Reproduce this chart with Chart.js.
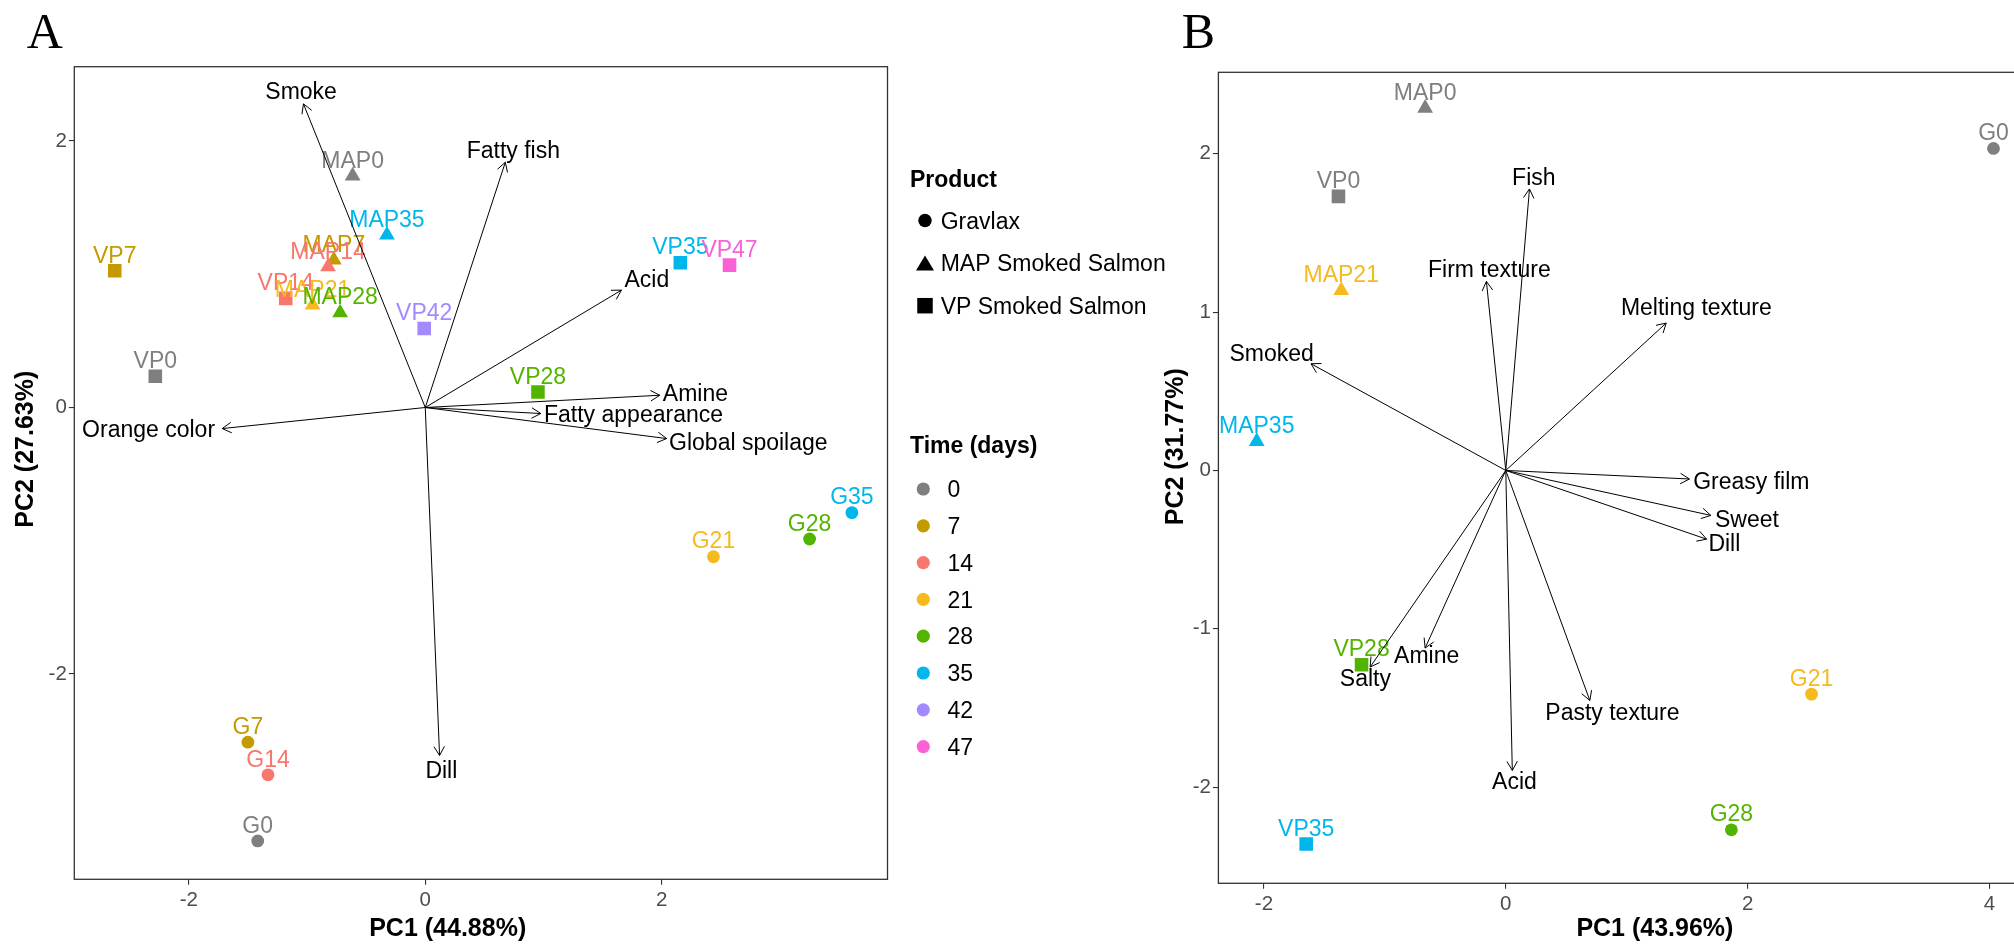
<!DOCTYPE html>
<html>
<head>
<meta charset="utf-8">
<title>PCA biplots – smoked salmon and gravlax</title>
<script src="https://cdn.jsdelivr.net/npm/chart.js@4.4.1/dist/chart.umd.min.js"></script>
<style>
  html, body { margin: 0; padding: 0; background: #ffffff; width: 2014px; height: 945px; overflow: hidden; }
  canvas { position: absolute; top: 0; }
  #panelA { left: 0; }
  #panelB { left: 1150px; }
</style>
</head>
<body>
<canvas id="panelA" width="1200" height="945"></canvas>
<canvas id="panelB" width="1000" height="945"></canvas>
<script>
// ---------- shared legend levels ----------
const productCodes  = ['G', 'MAP', 'VP'];
const productLabels = ['Gravlax', 'MAP Smoked Salmon', 'VP Smoked Salmon'];
const dayLevels = [0, 7, 14, 21, 28, 35, 42, 47];
const dayColors = ['#7F7F7F', '#C49A00', '#F8766D', '#F4BA1E', '#53B400', '#00B6EB', '#A58AFF', '#FB61D7'];

// ---------- panel A: sample scores ----------
const aSamples = ['VP0', 'VP7', 'VP14', 'VP28', 'VP35', 'VP42', 'VP47',
                  'MAP0', 'MAP7', 'MAP14', 'MAP21', 'MAP28', 'MAP35',
                  'G0', 'G7', 'G14', 'G21', 'G28', 'G35'];
const aProduct = ['VP', 'VP', 'VP', 'VP', 'VP', 'VP', 'VP',
                  'MAP', 'MAP', 'MAP', 'MAP', 'MAP', 'MAP',
                  'G', 'G', 'G', 'G', 'G', 'G'];
const aDay = [0, 7, 14, 28, 35, 42, 47, 0, 7, 14, 21, 28, 35, 0, 7, 14, 21, 28, 35];
const aPC1 = [-2.283, -2.626, -1.180, 0.953, 2.157, -0.009, 2.573,
              -0.614, -0.773, -0.822, -0.953, -0.720, -0.324,
              -1.417, -1.500, -1.330, 2.437, 3.250, 3.608];
const aPC2 = [0.235, 1.026, 0.819, 0.117, 1.087, 0.593, 1.069,
              1.738, 1.107, 1.056, 0.769, 0.711, 1.295,
              -3.253, -2.512, -2.757, -1.120, -0.987, -0.789];

// ---------- panel A: variable loadings ----------
const aVars = ['Smoke', 'Fatty fish', 'Acid', 'Amine', 'Fatty appearance', 'Global spoilage', 'Orange color', 'Dill'];
const aVarPC1 = [-1.030, 0.677, 1.659, 1.983, 0.977, 2.041, -1.717, 0.121];
const aVarPC2 = [2.279, 1.841, 0.881, 0.092, -0.045, -0.233, -0.158, -2.612];
const aVarLabelPC1 = [-1.050, 0.745, 1.874, 2.285, 1.761, 2.732, -2.340, 0.136];
const aVarLabelPC2 = [2.376, 1.933, 0.969, 0.113, -0.045, -0.258, -0.163, -2.720];
const aTicksX = [-2, 0, 2];
const aTicksY = [-2, 0, 2];

// ---------- panel B: sample scores ----------
const bSamples = ['VP0', 'VP28', 'VP35', 'MAP0', 'MAP21', 'MAP35', 'G0', 'G21', 'G28'];
const bProduct = ['VP', 'VP', 'VP', 'MAP', 'MAP', 'MAP', 'G', 'G', 'G'];
const bDay = [0, 28, 35, 0, 21, 35, 0, 21, 28];
const bPC1 = [-1.384, -1.193, -1.651, -0.667, -1.361, -2.060, 4.034, 2.529, 1.866];
const bPC2 = [1.731, -1.227, -2.360, 2.289, 1.137, 0.183, 2.034, -1.413, -2.270];

// ---------- panel B: variable loadings ----------
const bVars = ['Fish', 'Firm texture', 'Melting texture', 'Smoked', 'Greasy film', 'Sweet', 'Dill',
               'Salty', 'Amine', 'Pasty texture', 'Acid'];
const bVarPC1 = [0.196, -0.160, 1.327, -1.611, 1.519, 1.696, 1.661, -1.122, -0.667, 0.695, 0.054];
const bVarPC2 = [1.778, 1.194, 0.931, 0.674, -0.054, -0.284, -0.434, -1.242, -1.122, -1.453, -1.895];
const bVarLabelPC1 = [0.232, -0.136, 1.576, -1.936, 2.031, 1.995, 1.808, -1.161, -0.654, 0.882, 0.072];
const bVarLabelPC2 = [1.853, 1.274, 1.036, 0.745, -0.063, -0.305, -0.459, -1.311, -1.166, -1.522, -1.958];
const bTicksX = [-2, 0, 2, 4];
const bTicksY = [-2, -1, 0, 1, 2];

// ---------- styling ----------
const SANS  = "'Liberation Sans', Arial, Helvetica, sans-serif";
const SERIF = "'Liberation Serif', 'Times New Roman', serif";
const pointStyleFor = { G: 'circle', MAP: 'triangle', VP: 'rect' };
const pointRadiusFor = { G: 6.4, MAP: 9.1, VP: 9.6 };
const colorOfDay = d => dayColors[dayLevels.indexOf(d)];

function drawLegend(ctx) {
  ctx.save();
  ctx.fillStyle = '#000';
  ctx.textAlign = 'left';
  ctx.textBaseline = 'alphabetic';
  ctx.font = 'bold 23px ' + SANS;
  ctx.fillText('Product', 910, 187.3);
  ctx.fillText('Time (days)', 910, 452.7);

  ctx.font = '23px ' + SANS;
  productLabels.forEach((lab, i) => {
    const cy = 220.5 + i * 42.6, cx = 925;
    ctx.beginPath();
    if (productCodes[i] === 'G') {
      ctx.arc(cx, cy, 6.7, 0, Math.PI * 2);
    } else if (productCodes[i] === 'MAP') {
      ctx.moveTo(cx, cy - 7.5); ctx.lineTo(cx + 9, cy + 7.5); ctx.lineTo(cx - 9, cy + 7.5); ctx.closePath();
    } else {
      ctx.rect(cx - 7.75, cy - 7.75, 15.5, 15.5);
    }
    ctx.fill();
    ctx.fillText(lab, 940.7, cy + 8.2);
  });

  dayLevels.forEach((d, i) => {
    const cy = 489 + i * 36.8;
    ctx.beginPath();
    ctx.fillStyle = dayColors[i];
    ctx.arc(923.3, cy, 6.6, 0, Math.PI * 2);
    ctx.fill();
    ctx.fillStyle = '#000';
    ctx.fillText(String(d), 947.5, cy + 8.2);
  });
  ctx.restore();
}

function makeBiplotPlugin(panel) {
  return {
    id: 'biplot',
    beforeDatasetsDraw(chart) {
      const { ctx, chartArea: a } = chart;
      ctx.save();
      ctx.strokeStyle = '#333333';
      ctx.lineWidth = 1.3;
      ctx.strokeRect(a.left, a.top, a.right - a.left, a.bottom - a.top);
      ctx.restore();
    },
    afterDatasetDraw(chart, args) {
      if (args.index !== 0) return;
      const { ctx, scales: { x, y } } = chart;
      ctx.save();
      ctx.font = '23px ' + SANS;
      ctx.textAlign = 'center';
      ctx.textBaseline = 'alphabetic';
      panel.samples.forEach((name, i) => {
        ctx.fillStyle = colorOfDay(panel.day[i]);
        ctx.fillText(name, x.getPixelForValue(panel.pc1[i]), y.getPixelForValue(panel.pc2[i]) - 8.3);
      });
      ctx.restore();
    },
    afterDatasetsDraw(chart) {
      const { ctx, scales: { x, y } } = chart;
      ctx.save();
      ctx.strokeStyle = '#000';
      ctx.lineWidth = 1;
      const x0 = x.getPixelForValue(0), y0 = y.getPixelForValue(0);
      panel.vars.forEach((name, i) => {
        const x1 = x.getPixelForValue(panel.varPC1[i]);
        const y1 = y.getPixelForValue(panel.varPC2[i]);
        const ang = Math.atan2(y1 - y0, x1 - x0);
        const len = 10.5, spread = Math.PI / 6;
        ctx.beginPath();
        ctx.moveTo(x1 - len * Math.cos(ang - spread), y1 - len * Math.sin(ang - spread));
        ctx.lineTo(x1, y1);
        ctx.lineTo(x1 - len * Math.cos(ang + spread), y1 - len * Math.sin(ang + spread));
        ctx.stroke();
      });
      ctx.fillStyle = '#000';
      ctx.font = '23px ' + SANS;
      ctx.textAlign = 'center';
      ctx.textBaseline = 'alphabetic';
      panel.vars.forEach((name, i) => {
        ctx.fillText(name, x.getPixelForValue(panel.labPC1[i]), y.getPixelForValue(panel.labPC2[i]) + 8.2);
      });
      ctx.restore();
    },
    afterDraw(chart) {
      const ctx = chart.ctx;
      ctx.save();
      ctx.fillStyle = '#000';
      ctx.textBaseline = 'alphabetic';
      ctx.font = '50px ' + SERIF;
      ctx.textAlign = 'left';
      ctx.fillText(panel.letter, panel.letterX, 48.3);

      ctx.font = 'bold 25px ' + SANS;
      ctx.textAlign = 'center';
      ctx.fillText(panel.xTitle, panel.xTitleX, 935.5);
      ctx.translate(33.3, panel.yTitleY);
      ctx.rotate(-Math.PI / 2);
      ctx.fillText(panel.yTitle, 0, 0);
      ctx.restore();
      if (panel.legend) drawLegend(ctx);
    }
  };
}

function buildPanel(canvasId, panel) {
  const datasets = [{
    label: 'samples',
    data: panel.pc1.map((v, i) => ({ x: v, y: panel.pc2[i] })),
    order: 2,
    showLine: false,
    pointStyle: panel.product.map(p => pointStyleFor[p]),
    pointRadius: panel.product.map(p => pointRadiusFor[p]),
    pointBackgroundColor: panel.day.map(colorOfDay),
    pointBorderWidth: 0,
    pointBorderColor: 'rgba(0,0,0,0)'
  }];
  panel.vars.forEach((name, i) => {
    datasets.push({
      label: name,
      data: [{ x: 0, y: 0 }, { x: panel.varPC1[i], y: panel.varPC2[i] }],
      order: 1,
      showLine: true,
      borderColor: '#000000',
      borderWidth: 1,
      pointRadius: 0,
      fill: false
    });
  });

  const axisCommon = (ticksList, fitFn) => ({
    type: 'linear',
    afterBuildTicks: s => { s.ticks = ticksList.map(v => ({ value: v })); },
    afterFit: fitFn,
    border: { display: false },
    grid: { display: true, drawOnChartArea: false, drawTicks: true, tickLength: 5.5, color: '#333333', lineWidth: 1.1 },
    ticks: { color: '#4D4D4D', font: { family: SANS, size: 20.5 }, callback: v => String(v) }
  });

  const xAxis = axisCommon(panel.ticksX, s => { s.height = 945 - panel.area.bottom; });
  xAxis.min = panel.xMin; xAxis.max = panel.xMax; xAxis.ticks.padding = 3;
  const yAxis = axisCommon(panel.ticksY, s => { s.width = panel.area.left; });
  yAxis.min = panel.yMin; yAxis.max = panel.yMax; yAxis.ticks.padding = 2;

  const canvas = document.getElementById(canvasId);
  return new Chart(canvas, {
    type: 'scatter',
    data: { datasets },
    options: {
      responsive: false,
      animation: false,
      events: [],
      layout: { padding: { left: 0, top: panel.area.top, right: canvas.width - panel.area.right, bottom: 0 } },
      plugins: { legend: { display: false }, tooltip: { enabled: false } },
      scales: { x: xAxis, y: yAxis }
    },
    plugins: [makeBiplotPlugin(panel)]
  });
}

buildPanel('panelA', {
  samples: aSamples, product: aProduct, day: aDay, pc1: aPC1, pc2: aPC2,
  vars: aVars, varPC1: aVarPC1, varPC2: aVarPC2, labPC1: aVarLabelPC1, labPC2: aVarLabelPC2,
  ticksX: aTicksX, ticksY: aTicksY,
  xMin: -2.968, xMax: 3.909, yMin: -3.541, yMax: 2.558,
  area: { left: 74.3, top: 66.7, right: 887.5, bottom: 879.3 },
  letter: 'A', letterX: 26.7,
  xTitle: 'PC1 (44.88%)', xTitleX: 447.7,
  yTitle: 'PC2 (27.63%)', yTitleY: 449.2,
  legend: true
});

buildPanel('panelB', {
  samples: bSamples, product: bProduct, day: bDay, pc1: bPC1, pc2: bPC2,
  vars: bVars, varPC1: bVarPC1, varPC2: bVarPC2, labPC1: bVarLabelPC1, labPC2: bVarLabelPC2,
  ticksX: bTicksX, ticksY: bTicksY,
  xMin: -2.377, xMax: 4.336, yMin: -2.608, yMax: 2.515,
  area: { left: 68.4, top: 72.3, right: 880, bottom: 883.3 },
  letter: 'B', letterX: 31.8,
  xTitle: 'PC1 (43.96%)', xTitleX: 504.9,
  yTitle: 'PC2 (31.77%)', yTitleY: 446.7,
  legend: false
});
</script>
</body>
</html>
